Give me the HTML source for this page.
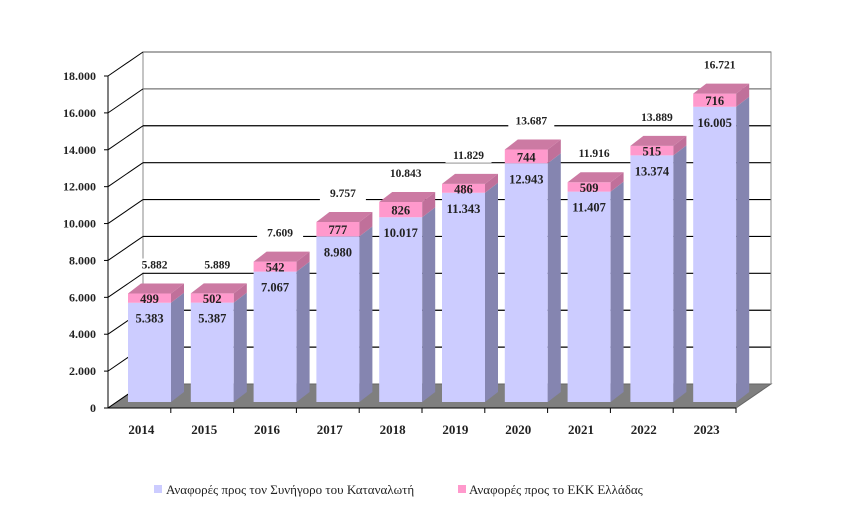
<!DOCTYPE html>
<html><head><meta charset="utf-8"><style>
body{margin:0;background:#fff;}
svg text{font-family:"Liberation Serif","DejaVu Serif",serif;}
</style></head><body>
<svg id="c" width="842" height="508" xmlns="http://www.w3.org/2000/svg"></svg>
<script>
const years=["2014","2015","2016","2017","2018","2019","2020","2021","2022","2023"];
const consumer=[5383,5387,7067,8980,10017,11343,12943,11407,13374,16005];
const ekk=[499,502,542,777,826,486,744,509,515,716];
const totals=["5.882","5.889","7.609","9.757","10.843","11.829","13.687","11.916","13.889","16.721"];
const ticks=[0,2000,4000,6000,8000,10000,12000,14000,16000,18000];
const fmt=v=>v===0?"0":(Math.floor(v/1000)+"."+String(v%1000).padStart(3,"0"));
const NS="http://www.w3.org/2000/svg",svg=document.getElementById("c");
function el(t,a,txt){const e=document.createElementNS(NS,t);for(const k in a)e.setAttribute(k,a[k]);if(txt!==undefined)e.textContent=txt;svg.appendChild(e);return e;}
const X0=108,X1=736,Y0=408,PPU=332/18000,DX=35,DY=-24,cw=(X1-X0)/years.length;
const yF=v=>Y0-v*PPU;
const yB=v=>402-v*PPU;
let w=el("polygon",{points:`${X0+DX},${Y0+DY} ${X0+DX},${yF(18000)+DY} ${X1+DX},${yF(18000)+DY} ${X1+DX},${Y0+DY}`,fill:"#fff",stroke:"#888"});

let f=el("polygon",{points:`${X0},${Y0} ${X0+DX},${Y0+DY} ${X1+DX},${Y0+DY} ${X1},${Y0}`,fill:"#7f7f7f",stroke:"#666"});

ticks.forEach(t=>{
  if(t>0){let g=el("line",{x1:X0+DX,y1:yF(t)+DY,x2:X1+DX,y2:yF(t)+DY,stroke:t>=16000?"#777":"#000","stroke-width":1.2});
  }
  let d=el("line",{x1:X0,y1:yF(t),x2:X0+DX,y2:yF(t)+DY,stroke:"#000"});
  
  let tk=el("line",{x1:X0-4,y1:yF(t),x2:X0,y2:yF(t),stroke:"#000"});
  
  let l=el("text",{x:96,y:yF(t)+4,"text-anchor":"end","font-size":12,"font-weight":"bold",fill:"#222"},fmt(t));
  
});
let ax=el("line",{x1:X0,y1:yF(18000),x2:X0,y2:Y0,stroke:"#000"});

let ax2=el("line",{x1:X0,y1:Y0,x2:X1,y2:Y0,stroke:"#000"});

const bw=43,bdx=13,bdy=-10;
years.forEach((yr,i)=>{
  const x=X0+i*cw+20, b=yB(0), m=yB(consumer[i]), t=yB(consumer[i]+ekk[i]);
  const p=(pts,fill,name)=>{const e=el("polygon",{points:pts,fill:fill});};
  p(`${x},${b} ${x+bw},${b} ${x+bw},${m} ${x},${m}`,"#ccccff","bar-consumer-"+yr);
  p(`${x+bw},${b} ${x+bw+bdx},${b+bdy} ${x+bw+bdx},${m+bdy} ${x+bw},${m}`,"#8585b0","bar-consumer-side-"+yr);
  p(`${x},${m} ${x+bw},${m} ${x+bw},${t} ${x},${t}`,"#ff99cc","bar-ekk-"+yr);
  p(`${x+bw},${m} ${x+bw+bdx},${m+bdy} ${x+bw+bdx},${t+bdy} ${x+bw},${t}`,"#c0709a","bar-ekk-side-"+yr);
  p(`${x},${t} ${x+bw},${t} ${x+bw+bdx},${t+bdy} ${x+bdx},${t+bdy}`,"#cc7aa3","bar-ekk-top-"+yr);
  const cx=x+bw/2;
  let l1=el("text",{x:cx,y:m+20,"text-anchor":"middle","font-size":12.5,"font-weight":"bold",fill:"#222"},fmt(consumer[i]));
  
  let l2=el("text",{x:cx,y:(m+t)/2+5,"text-anchor":"middle","font-size":12.5,"font-weight":"bold",fill:"#222"},ekk[i]);
  
  const ty=t-25;
  let bg=el("rect",{x:cx-18,y:ty-10,width:46,height:14,fill:"#fff"});
  
  let l3=el("text",{x:cx+5,y:ty,"text-anchor":"middle","font-size":11.5,"font-weight":"bold",fill:"#222"},totals[i]);
  
  let tk=el("line",{x1:X0+(i+1)*cw,y1:Y0,x2:X0+(i+1)*cw,y2:Y0+5,stroke:"#000"});
  
  let xl=el("text",{x:X0+i*cw+cw/2+2,y:434,"text-anchor":"middle","font-size":13,"font-weight":"bold",fill:"#222"},yr);
  
});
let rw=el("line",{x1:X1+DX,y1:yF(18000)+DY,x2:X1+DX,y2:Y0+DY,stroke:"#888"});

let s1=el("rect",{x:154,y:485,width:8,height:8,fill:"#ccccff"});

let t1=el("text",{x:166,y:494,"font-size":13,fill:"#222"},"Αναφορές προς τον Συνήγορο του Καταναλωτή");

let s2=el("rect",{x:458,y:485,width:8,height:8,fill:"#ff99cc"});

let t2=el("text",{x:469,y:494,"font-size":13,fill:"#222"},"Αναφορές προς το ΕΚΚ Ελλάδας");

</script>
</body></html>
